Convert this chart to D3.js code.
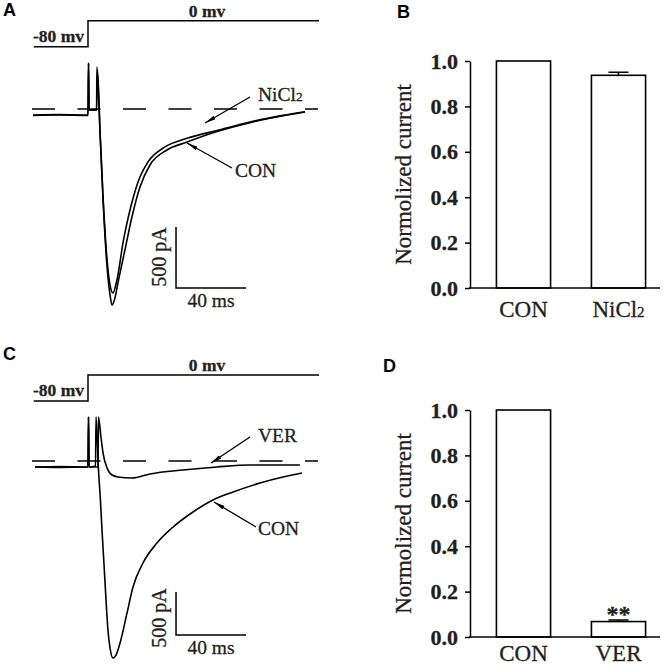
<!DOCTYPE html>
<html lang="en">
<head>
<meta charset="UTF-8">
<title>Inward current traces and normalized current</title>
<script src="https://d3js.org/d3.v7.min.js"></script>
<style>
  body { margin: 0; background: #fff; }
  svg text { font-family: "Liberation Serif", "Times New Roman", serif; fill: #231f20; stroke: #231f20; stroke-width: 0.3px; }
  svg text.letter { font-family: "Liberation Sans", Arial, sans-serif; font-weight: bold; font-size: 18px; fill: #000; stroke: none; }
  .trace { fill: none; stroke: #000; stroke-width: 1.6px; stroke-linejoin: round; }
  .proto { fill: none; stroke: #000; stroke-width: 1.5px; }
  .zero { stroke: #000; stroke-width: 1.3px; stroke-dasharray: 23 22.5; }
  .bar { fill: #fff; stroke: #000; stroke-width: 1.6px; }
  .axis path, .axis line { stroke: #000; stroke-width: 1.5px; }
</style>
</head>
<body>
<svg id="fig" width="671" height="666"></svg>
<script>
// voltage step protocol (ms, mV)
const protoTime = [-31, 0, 0, 132];
const protoVolt = [-80, -80, 0, 0];

// panel A: CON and NiCl2 traces (ms, pA)
const timeConA = [-31.4, -16, 0, 0.3, 0.6, 4.9, 5.1, 6.9, 8.6, 10.9, 12.6, 13.7, 15.4, 17.1, 21.1, 25.1, 29.7, 35.4, 45.1, 56.6, 73.7, 92.6, 111.4, 124];
const currConA = [-53, -49, -53, 377, -8, -8, 344, -197, -746, -1295, -1525, -1607, -1549, -1426, -1156, -885, -639, -459, -336, -271, -185, -112, -56, -25];
const timeNiA = [-31.4, -16, 0, 0.3, 0.6, 4.9, 5.4, 6.9, 8.6, 10.9, 12.6, 14.3, 16, 17.1, 20, 24, 28.6, 34.3, 44, 56.6, 73.7, 92.6, 111.4, 124];
const currNiA = [-49, -45, -49, 377, -8, -8, 320, -197, -721, -1238, -1443, -1508, -1434, -1361, -1098, -828, -598, -434, -311, -240, -176, -106, -52, -22];

// panel C: CON and VER traces (ms, pA)
const timeConC = [-30.3, -16, 0, 0.3, 0.6, 4.3, 4.6, 6, 7.1, 8, 9.1, 10.3, 11.4, 12.6, 14.3, 16, 18.3, 22.3, 25.7, 31.4, 39.4, 48.6, 60, 71.4, 82.9, 98.3, 111.4, 122.3];
const currConC = [-70, -64, -70, 512, -70, -58, 512, -105, -454, -802, -1186, -1617, -1965, -2175, -2291, -2256, -2117, -1768, -1465, -1186, -954, -768, -593, -454, -361, -256, -186, -140];
const timeVerC = [-30.3, -16, 0, 0.3, 0.6, 5.7, 6, 7.4, 8.6, 10.9, 13.7, 17.1, 25.1, 35.4, 54.3, 73.7, 92.6, 121.1];
const currVerC = [-70, -75, -70, 512, -70, -70, 512, 279, 93, -81, -163, -186, -198, -151, -105, -70, -47, -47];

// bar charts (normalized current, mean and SEM)
const catsB = ["CON", "NiCl2"];
const meansB = [1.0, 0.937];
const errsB = [0, 0.013];
const catsD = ["CON", "VER"];
const meansD = [1.0, 0.068];
const errsD = [0, 0.007];
const sigD = ["", "**"];
const yTicks = [0, 0.2, 0.4, 0.6, 0.8, 1.0];

const SERIF = "'Liberation Serif', 'Times New Roman', serif";
const svg = d3.select("#fig");

// arrow head for the trace labels
svg.append("defs").append("marker")
  .attr("id", "arrow")
  .attr("viewBox", "0 0 11 4")
  .attr("refX", 11).attr("refY", 2)
  .attr("markerWidth", 11).attr("markerHeight", 4)
  .attr("markerUnits", "userSpaceOnUse")
  .attr("orient", "auto")
  .append("path").attr("d", "M0,0L11,2L0,4Z").attr("fill", "#000");

const x = d3.scaleLinear().domain([0, 40]).range([88, 158]);

function tracePanel(p) {
  const g = svg.append("g");
  const y = d3.scaleLinear().domain([0, -500]).range([p.zeroY, p.zeroY + p.px500]);
  const v = d3.scaleLinear().domain([-80, 0]).range([p.lowY, p.lowY - 26]);

  g.append("text").attr("class", "letter").attr("x", 3).attr("y", p.letterY).text(p.letter);

  // protocol
  g.append("path").attr("class", "proto")
    .attr("d", d3.line().x(d => x(d[0])).y(d => v(d[1]))(d3.zip(protoTime, protoVolt)));
  g.append("text").attr("x", 33).attr("y", p.lowY - 5.2)
    .style("font-family", SERIF).style("font-size", "17.5px").style("font-weight", "bold").text("-80 mv");
  g.append("text").attr("x", 207).attr("y", p.lowY - 30).attr("text-anchor", "middle")
    .style("font-family", SERIF).style("font-size", "17.5px").style("font-weight", "bold").text("0 mv");

  // zero current
  g.append("line").attr("class", "zero")
    .attr("x1", x(-32)).attr("x2", x(131.4)).attr("y1", y(0)).attr("y2", y(0));

  const line = d3.line().x(d => x(d[0])).y(d => y(d[1])).curve(d3.curveMonotoneX);
  p.traces.forEach(t => {
    g.append("path").attr("class", "trace").attr("d", line(d3.zip(t[0], t[1])));
  });

  // labels with arrows
  p.labels.forEach(l => {
    g.append("line").attr("x1", l.ax1).attr("y1", l.ay1).attr("x2", l.ax2).attr("y2", l.ay2)
      .attr("stroke", "#000").attr("stroke-width", 1.3).attr("marker-end", "url(#arrow)");
    const t = g.append("text").attr("x", l.x).attr("y", l.y)
      .style("font-family", SERIF).style("font-size", "19.5px");
    if (l.text === "NiCl2") {
      t.text("NiCl");
      t.append("tspan").style("font-size", "13.5px").text("2");
    } else {
      t.text(l.text);
    }
  });

  // scale bars
  const sb = g.append("g");
  sb.append("path").attr("class", "proto")
    .attr("d", `M${x(50.3)},${y(p.barI + 500)}V${y(p.barI)}H${x(90.3)}`);
  sb.append("text").attr("text-anchor", "middle")
    .attr("transform", `translate(166,${p.pAy}) rotate(-90)`)
    .style("font-family", SERIF).style("font-size", "20px").text("500 pA");
  sb.append("text").attr("x", x(70.3)).attr("y", y(p.barI) + 19).attr("text-anchor", "middle")
    .style("font-family", SERIF).style("font-size", "19.5px").text("40 ms");
}

tracePanel({
  letter: "A", letterY: 16, zeroY: 109, px500: 61, lowY: 46.7, barI: -1467, pAy: 257,
  traces: [[timeConA, currConA], [timeNiA, currNiA]],
  labels: [
    { text: "NiCl2", x: 258, y: 100.7, ax1: 250, ay1: 97, ax2: 205, ay2: 123 },
    { text: "CON", x: 235, y: 177, ax1: 232, ay1: 168, ax2: 187, ay2: 143 }
  ]
});

tracePanel({
  letter: "C", letterY: 360, zeroY: 461, px500: 43, lowY: 401, barI: -2023, pAy: 618,
  traces: [[timeConC, currConC], [timeVerC, currVerC]],
  labels: [
    { text: "VER", x: 258, y: 442, ax1: 250, ay1: 437, ax2: 211, ay2: 463 },
    { text: "CON", x: 258, y: 535, ax1: 256, ay1: 527, ax2: 214, ay2: 502 }
  ]
});

function barPanel(p) {
  const g = svg.append("g");
  const ys = d3.scaleLinear().domain([0, 1]).range([p.baseY, p.baseY - 227]);
  const xb = d3.scaleBand().domain(p.cats).range([476, 666]).paddingInner(0.43).paddingOuter(0.215);

  g.append("text").attr("class", "letter").attr("x", p.letterX).attr("y", p.letterY).text(p.letter);

  g.append("g").attr("class", "axis").attr("transform", "translate(470,0)")
    .call(d3.axisLeft(ys).tickValues(yTicks).tickFormat(d3.format(".1f")).tickSize(5).tickSizeOuter(0).tickPadding(7))
    .call(a => a.selectAll("text").style("font-family", SERIF).style("font-size", "22px")
      .style("font-weight", "bold").attr("fill", "#231f20"));

  g.selectAll("rect.bar").data(p.cats).join("rect").attr("class", "bar")
    .attr("x", d => xb(d)).attr("width", xb.bandwidth())
    .attr("y", (d, i) => ys(p.means[i])).attr("height", (d, i) => ys(0) - ys(p.means[i]));

  p.cats.forEach((c, i) => {
    if (!p.errs[i]) return;
    const cx = xb(c) + xb.bandwidth() / 2;
    const top = ys(p.means[i] + p.errs[i]);
    g.append("path").attr("fill", "none").attr("stroke", "#000").attr("stroke-width", 1.5)
      .attr("d", `M${cx},${ys(p.means[i])}V${top}M${cx - 10},${top}H${cx + 10}`);
    if (p.sig && p.sig[i]) {
      g.append("text").attr("x", cx).attr("y", top + 2).attr("text-anchor", "middle")
        .style("font-family", SERIF).style("font-size", "24px").style("font-weight", "bold").text(p.sig[i]);
    }
  });

  // x axis
  g.append("line").attr("x1", 469).attr("x2", 660).attr("y1", ys(0)).attr("y2", ys(0))
    .attr("stroke", "#000").attr("stroke-width", 1.5);
  p.cats.forEach(c => {
    const t = g.append("text").attr("x", xb(c) + xb.bandwidth() / 2).attr("y", ys(0) + p.catDy)
      .attr("text-anchor", "middle").style("font-family", SERIF).style("font-size", "23px");
    if (c === "NiCl2") {
      t.text("NiCl");
      t.append("tspan").style("font-size", "15px").text("2");
    } else {
      t.text(c);
    }
  });

  g.append("text").attr("text-anchor", "middle")
    .attr("transform", `translate(411,${ys(0.5)}) rotate(-90)`)
    .style("font-family", SERIF).style("font-size", "23px").text("Normolized current");
}

barPanel({ letter: "B", letterX: 397, letterY: 18, baseY: 288, catDy: 29, cats: catsB, means: meansB, errs: errsB });
barPanel({ letter: "D", letterX: 383, letterY: 372, baseY: 637, catDy: 24, cats: catsD, means: meansD, errs: errsD, sig: sigD });
</script>
</body>
</html>
